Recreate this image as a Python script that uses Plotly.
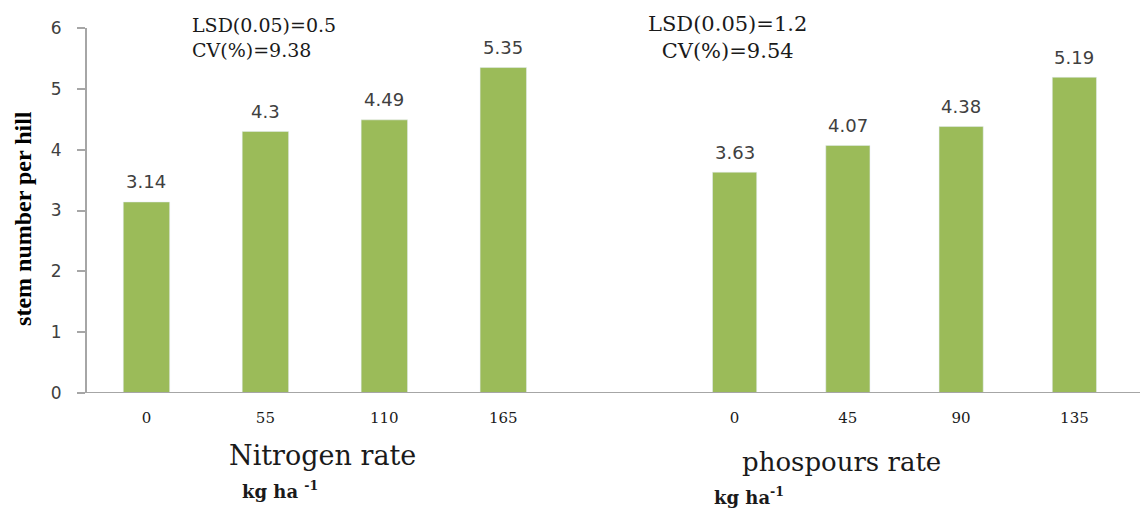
import plotly.graph_objects as go

nitrogen_rates = ["0", "55", "110", "165"]
nitrogen_stems = [3.14, 4.30, 4.49, 5.35]
phosphorus_rates = ["0", "45", "90", "135"]
phosphorus_stems = [3.63, 4.07, 4.38, 5.19]
y_ticks = [0, 1, 2, 3, 4, 5, 6]

BAR = "#9BBB59"
GRID = "#A6A6A6"
SERIF = "DejaVu Serif"
SANS = "DejaVu Sans"

fig = go.Figure()
fig.add_trace(go.Bar(x=nitrogen_rates, y=nitrogen_stems, marker_color=BAR,
                     width=0.39, xaxis="x", yaxis="y", showlegend=False))
fig.add_trace(go.Bar(x=phosphorus_rates, y=phosphorus_stems, marker_color=BAR,
                     width=0.39, xaxis="x2", yaxis="y2", showlegend=False))

ann = []
for cats, vals, xr, yr in [(nitrogen_rates, nitrogen_stems, "x", "y"),
                           (phosphorus_rates, phosphorus_stems, "x2", "y2")]:
    for i, v in enumerate(vals):
        ann.append(dict(x=i, y=v, xref=xr, yref=yr, text=f"{v:g}", showarrow=False,
                        yshift=20, font=dict(family=SANS, size=18, color="#404040")))

txt = "#1a1a1a"
ann += [
    dict(x=0.0971, y=0.9735, xref="paper", yref="paper", xanchor="left", yanchor="middle",
         align="left", text="LSD(0.05)=0.5<br>CV(%)=9.38", showarrow=False,
         font=dict(family=SERIF, size=19, color=txt)),
    dict(x=0.604, y=0.975, xref="paper", yref="paper", xanchor="center", yanchor="middle",
         align="center", text="LSD(0.05)=1.2<br>CV(%)=9.54", showarrow=False,
         font=dict(family=SERIF, size=21, color=txt)),
    dict(x=0.2224, y=-0.170, xref="paper", yref="paper", xanchor="center", yanchor="middle",
         text="Nitrogen rate", showarrow=False, font=dict(family=SERIF, size=27, color=txt)),
    dict(x=0.7107, y=-0.189, xref="paper", yref="paper", xanchor="center", yanchor="middle",
         text="phospours rate", showarrow=False, font=dict(family=SERIF, size=26, color=txt)),
    dict(x=0.1819, y=-0.266, xref="paper", yref="paper", xanchor="center", yanchor="middle",
         text="<b>kg ha <sup>-1</sup></b>", showarrow=False, font=dict(family=SERIF, size=18, color=txt)),
    dict(x=0.589, y=-0.283, xref="paper", yref="paper", xanchor="left", yanchor="middle",
         text="<b>kg ha<sup>-1</sup></b>", showarrow=False, font=dict(family=SERIF, size=18, color=txt)),
    dict(x=-0.0603, y=0.477, xref="paper", yref="paper", xanchor="center", yanchor="middle",
         textangle=-90, text="<b>stem number per hill</b>", showarrow=False,
         font=dict(family="Liberation Serif", size=24, color="#000000")),
]

xcommon = dict(type="category", range=[-0.5, 3.5], showline=False, showgrid=False,
               ticks="", zeroline=False,
               tickfont=dict(family=SERIF, size=15, color=txt), ticklabelstandoff=14,
               fixedrange=True)

# page body adds an 8px margin, so the figure is 8px smaller and margins shifted
fig.update_layout(
    width=1140, height=504,
    margin=dict(l=79, r=0, t=20, b=119, autoexpand=False),
    paper_bgcolor="white", plot_bgcolor="white",
    xaxis=dict(domain=[0.0, 0.4484], anchor="y", **xcommon),
    xaxis2=dict(domain=[0.557, 0.984], anchor="y2", **xcommon),
    yaxis=dict(range=[0, 6], tickvals=y_ticks, showgrid=False, zeroline=False,
               showline=True, linecolor=GRID, linewidth=2, ticks="outside", ticklen=8,
               tickcolor=GRID, tickwidth=1.5, ticklabelstandoff=12,
               tickfont=dict(family=SANS, size=17, color="#404040")),
    yaxis2=dict(range=[0, 6], anchor="x2", matches="y", visible=False),
    annotations=ann,
    shapes=[dict(type="line", xref="paper", yref="y", x0=0, x1=1, y0=0, y1=0,
                 line=dict(color=GRID, width=2), layer="above")],
)

fig.write_html("out.html")
